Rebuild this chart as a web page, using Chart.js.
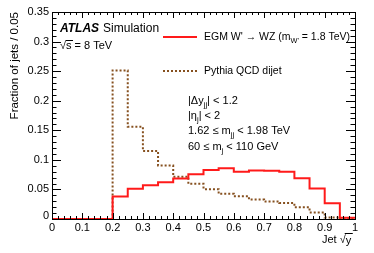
<html>
<head>
	<title>Jet sqrt(y) distribution</title>
	<script src="https://cdn.jsdelivr.net/npm/chart.js@4.4.1/dist/chart.umd.min.js"></script>
	<style>
		body { margin: 0; background: #fff; }
	</style>
	<script>
		// bin edges of the histogram (width 0.05)
		var binEdges = [0, 0.05, 0.1, 0.15, 0.2, 0.25, 0.3, 0.35, 0.4, 0.45, 0.5,
			0.55, 0.6, 0.65, 0.7, 0.75, 0.8, 0.85, 0.9, 0.95, 1.0];

		// EGM W' -> WZ signal
		var signalValues = [0, 0, 0, 0, 0.038, 0.051, 0.057, 0.062, 0.0685, 0.0755,
			0.083, 0.086, 0.080, 0.082, 0.0815, 0.080, 0.069, 0.0515, 0.0265, 0.002];

		// Pythia QCD dijet background
		var qcdValues = [0, 0, 0, 0, 0.251, 0.156, 0.115, 0.0905, 0.0715, 0.0595,
			0.0505, 0.0425, 0.0385, 0.033, 0.0295, 0.027, 0.0198, 0.0112, 0.0025, 0.0005];

		var xTicks = [0, 0.1, 0.2, 0.3, 0.4, 0.5, 0.6, 0.7, 0.8, 0.9, 1];
		var xTickLabels = ['0', '0.1', '0.2', '0.3', '0.4', '0.5', '0.6', '0.7', '0.8', '0.9', '1'];
		var yTicks = [0, 0.05, 0.1, 0.15, 0.2, 0.25, 0.3, 0.35];
		var yTickLabels = ['0', '0.05', '0.1', '0.15', '0.2', '0.25', '0.3', '0.35'];

		var FONT = "'Liberation Sans', Arial, sans-serif";

		function histPoints(values) {
			var pts = [];
			for (var i = 0; i < values.length; i++) {
				pts.push({x: binEdges[i], y: values[i]});
			}
			pts.push({x: binEdges[values.length], y: values[values.length - 1]});
			return pts;
		}

		// draws the text with a small subscript part: parts = [[text, isSub], ...]
		function richText(ctx, x, y, parts, size) {
			parts.forEach(function(p) {
				if (p[1]) {
					ctx.font = (size * 0.7) + 'px ' + FONT;
					ctx.fillText(p[0], x, y + size * 0.35);
				} else {
					ctx.font = size + 'px ' + FONT;
					ctx.fillText(p[0], x, y);
				}
				x += ctx.measureText(p[0]).width;
			});
			return x;
		}

		var framePlugin = {
			id: 'rootFrame',
			afterDraw: function(chart) {
				var ctx = chart.ctx;
				var a = chart.chartArea;
				var xs = chart.scales.x;
				var ys = chart.scales.y;
				ctx.save();
				ctx.strokeStyle = '#000';
				ctx.lineWidth = 1;
				ctx.strokeRect(Math.round(a.left) + 0.5, Math.round(a.top) + 0.5,
					Math.round(a.right - a.left), Math.round(a.bottom - a.top));

				ctx.beginPath();
				// x ticks, bottom and top, pointing inwards
				for (var v = 0; v <= 50; v++) {
					var px = Math.round(xs.getPixelForValue(v * 0.02)) + 0.5;
					var len = (v % 5 === 0) ? 6 : 3;
					ctx.moveTo(px, a.bottom); ctx.lineTo(px, a.bottom - len);
					ctx.moveTo(px, a.top); ctx.lineTo(px, a.top + len);
				}
				// y ticks, left and right
				for (var w = 0; w <= 35; w++) {
					var py = Math.round(ys.getPixelForValue(w * 0.01)) + 0.5;
					var ylen = (w % 5 === 0) ? 9 : 4.5;
					ctx.moveTo(a.left, py); ctx.lineTo(a.left + ylen, py);
					ctx.moveTo(a.right, py); ctx.lineTo(a.right - ylen, py);
				}
				ctx.stroke();

				ctx.fillStyle = '#000';
				ctx.font = '11px ' + FONT;
				ctx.textAlign = 'center';
				ctx.textBaseline = 'middle';
				xTicks.forEach(function(t, i) {
					ctx.fillText(xTickLabels[i], xs.getPixelForValue(t), 228);
				});
				ctx.textAlign = 'right';
				yTicks.forEach(function(t, i) {
					var yy = ys.getPixelForValue(t);
					if (t === 0) yy -= 3;
					ctx.fillText(yTickLabels[i], 49, yy);
				});

				// axis titles
				ctx.save();
				ctx.translate(15, a.top);
				ctx.rotate(-Math.PI / 2);
				ctx.textAlign = 'right';
				ctx.font = '11.5px ' + FONT;
				ctx.fillText('Fraction of jets / 0.05', 0, 0);
				ctx.restore();

				ctx.textAlign = 'left';
				ctx.font = '11px ' + FONT;
				var jx = a.right - 33;
				ctx.fillText('Jet ', jx, 240);
				var rx = jx + ctx.measureText('Jet ').width;
				ctx.fillText('\u221A', rx, 240);
				var yx = rx + ctx.measureText('\u221A').width;
				ctx.fillText('y', yx, 241);
				ctx.beginPath();
				ctx.moveTo(rx + 5, 233.5); ctx.lineTo(yx + 7, 233.5);
				ctx.stroke();

				// ATLAS label
				ctx.font = 'bold italic 12px ' + FONT;
				ctx.fillText('ATLAS', 60, 29);
				var ax = 60 + ctx.measureText('ATLAS').width + 4;
				ctx.font = '12px ' + FONT;
				ctx.fillText('Simulation', ax, 29);
				ctx.font = '11px ' + FONT;
				ctx.fillText('\u221As = 8 TeV', 60, 46);
				ctx.beginPath();
				ctx.moveTo(66, 40.5); ctx.lineTo(73, 40.5);
				ctx.stroke();

				// legend
				ctx.lineWidth = 2;
				ctx.strokeStyle = '#ff1a1a';
				ctx.beginPath();
				ctx.moveTo(163, 37); ctx.lineTo(197, 37);
				ctx.stroke();
				ctx.strokeStyle = '#86501f';
				ctx.setLineDash([2, 2]);
				ctx.beginPath();
				ctx.moveTo(163, 71); ctx.lineTo(197, 71);
				ctx.stroke();
				ctx.setLineDash([]);

				richText(ctx, 204, 37, [["EGM W' \u2192 WZ (m", false], ["W'", true], [" = 1.8 TeV)", false]], 10.5);
				richText(ctx, 204, 71, [["Pythia QCD dijet", false]], 10.5);

				richText(ctx, 188, 101, [["|\u0394y", false], ["jj", true], ["| < 1.2", false]], 11);
				richText(ctx, 188, 116, [["|\u03B7", false], ["j", true], ["| < 2", false]], 11);
				richText(ctx, 188, 131, [["1.62 \u2264 m", false], ["jj", true], [" < 1.98 TeV", false]], 11);
				richText(ctx, 188, 147, [["60 \u2264 m", false], ["j", true], [" < 110 GeV", false]], 11);
				ctx.restore();
			}
		};

		function start() {
			var ctx = document.getElementById('jetChart');
			new Chart(ctx, {
				type: 'line',
				data: {
					datasets: [{
						label: "EGM W' -> WZ",
						data: histPoints(signalValues),
						borderColor: '#ff1a1a',
						borderWidth: 2,
						stepped: 'before',
						pointRadius: 0,
						fill: false
					}, {
						label: 'Pythia QCD dijet',
						data: histPoints(qcdValues),
						borderColor: '#86501f',
						borderWidth: 2,
						borderDash: [2, 2],
						stepped: 'before',
						pointRadius: 0,
						fill: false
					}]
				},
				options: {
					responsive: false,
					animation: false,
					layout: { padding: { left: 52, right: 19, top: 12, bottom: 34 } },
					plugins: { legend: { display: false }, tooltip: { enabled: false } },
					scales: {
						x: { type: 'linear', min: 0, max: 1, display: false },
						y: { type: 'linear', min: 0, max: 0.35, display: false }
					}
				},
				plugins: [framePlugin]
			});
		}
	</script>
</head>
<body onload="start()">
	<canvas id="jetChart" width="374" height="253"></canvas>
</body>
</html>
